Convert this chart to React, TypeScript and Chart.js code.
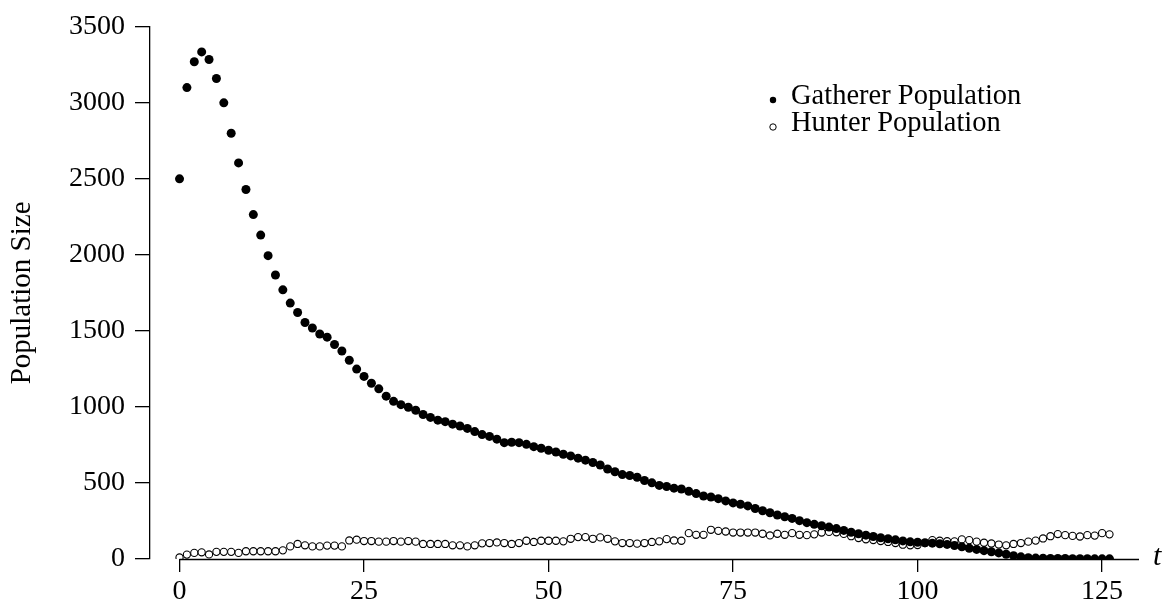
import React, { useEffect, useRef } from "react";
import { Chart, registerables } from "chart.js";

Chart.register(...registerables);

const timeSteps: number[] = Array.from({ length: 127 }, (_, i) => i);

const gathererPopulation: number[] = [
  2500, 3100, 3270, 3335, 3285, 3160, 3000, 2800, 2605, 2430,
  2265, 2130, 1995, 1868, 1770, 1683, 1621, 1555, 1519, 1480,
  1459, 1411, 1368, 1307, 1249, 1201, 1156, 1119, 1071, 1037,
  1015, 998, 978, 950, 931, 913, 903, 887, 875, 859,
  838, 818, 806, 788, 765, 768, 765, 754, 739, 728,
  715, 704, 689, 678, 663, 650, 635, 618, 592, 574,
  555, 549, 538, 516, 501, 484, 477, 466, 460, 445,
  430, 414, 408, 397, 382, 369, 360, 349, 332, 317,
  304, 289, 278, 267, 252, 239, 228, 219, 210, 200,
  188, 176, 166, 157, 148, 140, 133, 126, 119, 113,
  110, 107, 104, 100, 96, 89, 80, 71, 63, 55,
  48, 40, 31, 22, 14, 9, 6, 5, 4, 3,
  3, 2, 2, 2, 1, 1, 1,
];

const hunterPopulation: number[] = [
  10, 29, 40, 44, 30, 47, 47, 47, 40, 51,
  51, 51, 51, 51, 57, 83, 99, 90, 83, 83,
  88, 88, 83, 122, 127, 118, 118, 114, 114, 118,
  114, 118, 114, 99, 99, 99, 99, 90, 90, 83,
  90, 103, 105, 109, 105, 99, 105, 120, 112, 120,
  120, 120, 116, 133, 144, 144, 133, 142, 133, 116,
  105, 105, 101, 105, 112, 116, 131, 122, 120, 170,
  159, 159, 192, 185, 181, 174, 174, 174, 174, 166,
  155, 166, 159, 170, 159, 157, 162, 174, 178, 176,
  165, 150, 138, 130, 125, 118, 112, 105, 94, 90,
  92, 105, 124, 120, 117, 116, 129, 124, 114, 107,
  102, 95, 90, 99, 105, 114, 121, 135, 150, 164,
  157, 152, 148, 157, 154, 170, 162,
];

const xTickValues: number[] = [0, 25, 50, 75, 100, 125];
const yTickValues: number[] = [0, 500, 1000, 1500, 2000, 2500, 3000, 3500];

const seriesNames: string[] = ["Gatherer Population", "Hunter Population"];
const xAxisLabel = "t";
const yAxisLabel = "Population Size";

const SERIF = '"Liberation Serif", "Times New Roman", serif';

const overlayPlugin = {
  id: "overlay",
  afterDraw(chart: any) {
    const { ctx, chartArea, scales } = chart;
    const x = scales.x;
    ctx.save();
    // x axis line starting at t = 0
    ctx.strokeStyle = "#000";
    ctx.lineWidth = 1.3;
    ctx.beginPath();
    const y0 = Math.round(chartArea.bottom) + 0.5;
    ctx.moveTo(x.getPixelForValue(0), y0);
    ctx.lineTo(chartArea.right, y0);
    ctx.stroke();

    // axis label t
    ctx.fillStyle = "#000";
    ctx.font = `italic 30px ${SERIF}`;
    ctx.textAlign = "left";
    ctx.textBaseline = "middle";
    ctx.fillText(xAxisLabel, chartArea.right + 14, chartArea.bottom - 2);

    // legend
    const lx = 773;
    const ly = [100, 127];
    ctx.font = `28.5px ${SERIF}`;
    ctx.textBaseline = "alphabetic";
    seriesNames.forEach((name, i) => {
      ctx.beginPath();
      ctx.arc(lx, ly[i], 3.2, 0, Math.PI * 2);
      if (i === 0) {
        ctx.fillStyle = "#000";
        ctx.fill();
      } else {
        ctx.fillStyle = "#fff";
        ctx.fill();
        ctx.lineWidth = 1;
        ctx.strokeStyle = "#000";
        ctx.stroke();
      }
      ctx.fillStyle = "#000";
      ctx.fillText(name, 791, ly[i] + 3.5);
    });
    ctx.restore();
  },
};

export default function App() {
  const canvasRef = useRef<HTMLCanvasElement | null>(null);

  useEffect(() => {
    if (!canvasRef.current) return;
    const chart = new Chart(canvasRef.current, {
      type: "scatter",
      data: {
        datasets: [
          {
            label: seriesNames[0],
            data: timeSteps.map((t, i) => ({ x: t, y: gathererPopulation[i] })),
            pointRadius: 4.5,
            pointBackgroundColor: "#000",
            pointBorderColor: "#000",
            pointBorderWidth: 0,
          },
          {
            label: seriesNames[1],
            data: timeSteps.map((t, i) => ({ x: t, y: hunterPopulation[i] })),
            pointRadius: 3.6,
            pointBackgroundColor: "#fff",
            pointBorderColor: "#000",
            pointBorderWidth: 1.1,
          },
        ],
      },
      options: {
        responsive: false,
        animation: false,
        layout: { padding: { left: 0, top: 20, right: 33, bottom: 0 } },
        plugins: {
          legend: { display: false },
          tooltip: { enabled: false },
        },
        scales: {
          x: {
            type: "linear",
            min: -4,
            max: 130,
            afterBuildTicks: (s: any) => {
              s.ticks = xTickValues.map((v) => ({ value: v }));
            },
            afterFit: (s: any) => {
              s.height = 51;
            },
            border: { display: false },
            grid: {
              display: true,
              drawOnChartArea: false,
              drawTicks: true,
              tickLength: 13,
              color: "#000",
              lineWidth: 1.3,
            },
            ticks: {
              color: "#000",
              font: { family: SERIF, size: 28 },
              padding: 3,
              maxRotation: 0,
              autoSkip: false,
              callback: (v: any) => String(v),
            },
          },
          y: {
            min: 0,
            max: 3500,
            afterBuildTicks: (s: any) => {
              s.ticks = yTickValues.map((v) => ({ value: v }));
            },
            afterFit: (s: any) => {
              s.width = 150;
            },
            border: { display: true, color: "#000", width: 1.3 },
            grid: {
              display: true,
              drawOnChartArea: false,
              drawTicks: true,
              tickLength: 15,
              color: "#000",
              lineWidth: 1.3,
            },
            ticks: {
              color: "#000",
              font: { family: SERIF, size: 28 },
              padding: 10,
              autoSkip: false,
              callback: (v: any) => String(v),
            },
            title: {
              display: true,
              text: yAxisLabel,
              color: "#000",
              font: { family: SERIF, size: 29 },
              padding: { top: 5, bottom: 0 },
            },
          },
        },
      },
      plugins: [overlayPlugin],
    });
    return () => chart.destroy();
  }, []);

  return (
    <div style={{ position: "fixed", left: 0, top: 0, width: 1172, height: 610, background: "#fff" }}>
      <canvas ref={canvasRef} width={1172} height={610} />
    </div>
  );
}
